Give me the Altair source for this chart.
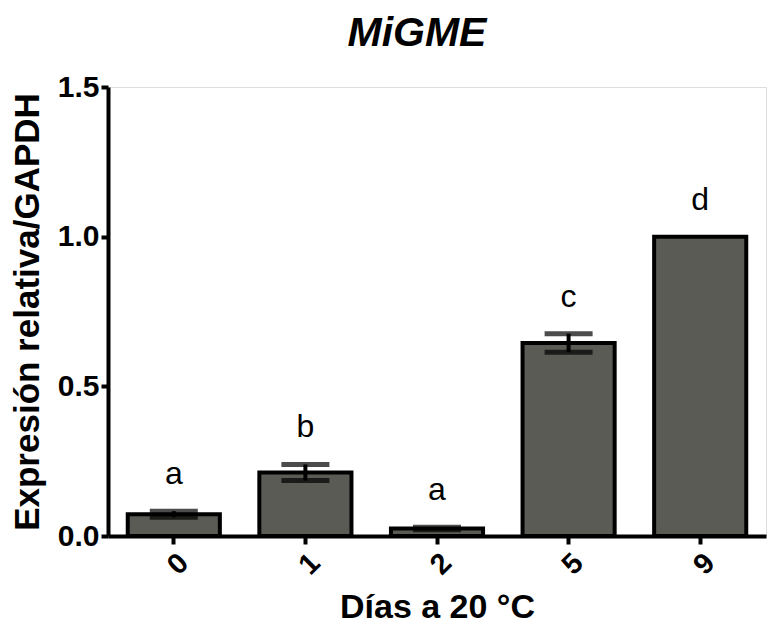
import altair as alt
import pandas as pd

days = ["0", "1", "2", "5", "9"]
values = [0.073, 0.212, 0.025, 0.645, 1.0]
errors = [0.010, 0.027, 0.004, 0.031, 0.0]
letters = ["a", "b", "a", "c", "d"]

df = pd.DataFrame({
    "day": days,
    "value": values,
    "err": errors,
    "letter": letters,
})
df["lo"] = df["value"] - df["err"]
df["hi"] = df["value"] + df["err"]

FONT = "Liberation Sans"

x_enc = alt.X(
    "day:N",
    sort=days,
    scale=alt.Scale(paddingInner=0.3, paddingOuter=0.15),
    axis=alt.Axis(
        title="Días a 20 °C",
        labelAngle=-45,
        labelFontSize=29,
        labelFontWeight="bold",
        labelFont=FONT,
        labelColor="black",
        titleFontSize=34,
        titleFontWeight="bold",
        titleFont=FONT,
        titleColor="black",
        titlePadding=11,
        domainColor="black",
        domainWidth=4,
        tickColor="black",
        tickWidth=4,
        tickSize=8,
        labelPadding=4,
    ),
)

y_scale = alt.Scale(domain=[0, 1.5], nice=False)

bars = alt.Chart(df).mark_bar(
    color="#5b5b55", stroke="black", strokeWidth=4
).encode(
    x=x_enc,
    y=alt.Y(
        "value:Q",
        scale=y_scale,
        axis=alt.Axis(
            title="Expresión relativa/GAPDH",
            values=[0, 0.5, 1.0, 1.5],
            format=".1f",
            labelFontSize=30,
            labelFontWeight="bold",
            labelFont=FONT,
            labelColor="black",
            titleFontSize=35,
            titleFontWeight="bold",
            titleFont=FONT,
            titleColor="black",
            titlePadding=12,
            domainColor="black",
            domainWidth=4,
            tickColor="black",
            tickWidth=4,
            tickSize=7,
            labelPadding=2,
            grid=False,
        ),
    ),
)

err_df = df[df["err"] > 0]

rules = alt.Chart(err_df).mark_rule(color="black", strokeWidth=4).encode(
    x=alt.X("day:N", sort=days),
    y=alt.Y("lo:Q", scale=y_scale),
    y2="hi:Q",
)

caps_hi = alt.Chart(err_df).mark_tick(color="black", thickness=5, size=48).encode(
    x=alt.X("day:N", sort=days),
    y=alt.Y("hi:Q", scale=y_scale),
)
caps_lo = alt.Chart(err_df).mark_tick(color="black", thickness=5, size=48).encode(
    x=alt.X("day:N", sort=days),
    y=alt.Y("lo:Q", scale=y_scale),
)

labels = alt.Chart(df).mark_text(
    font=FONT, fontSize=32, color="black", baseline="middle", dy=-37
).encode(
    x=alt.X("day:N", sort=days),
    y=alt.Y("hi:Q", scale=y_scale),
    text="letter:N",
)

chart = alt.layer(bars, rules, caps_hi, caps_lo, labels).properties(
    width=658,
    height=449,
    title=alt.TitleParams(
        text="MiGME",
        font=FONT,
        fontSize=41,
        fontWeight="bold",
        fontStyle="italic",
        color="black",
        anchor="middle",
        dx=-20,
        offset=17,
    ),
    autosize=alt.AutoSizeParams(type="none"),
    padding={"left": 100, "top": 79, "right": 2, "bottom": 89},
).configure_view(stroke=None).configure(background="white")

chart.save("out.html", embed_options={"renderer": "svg", "actions": False})
